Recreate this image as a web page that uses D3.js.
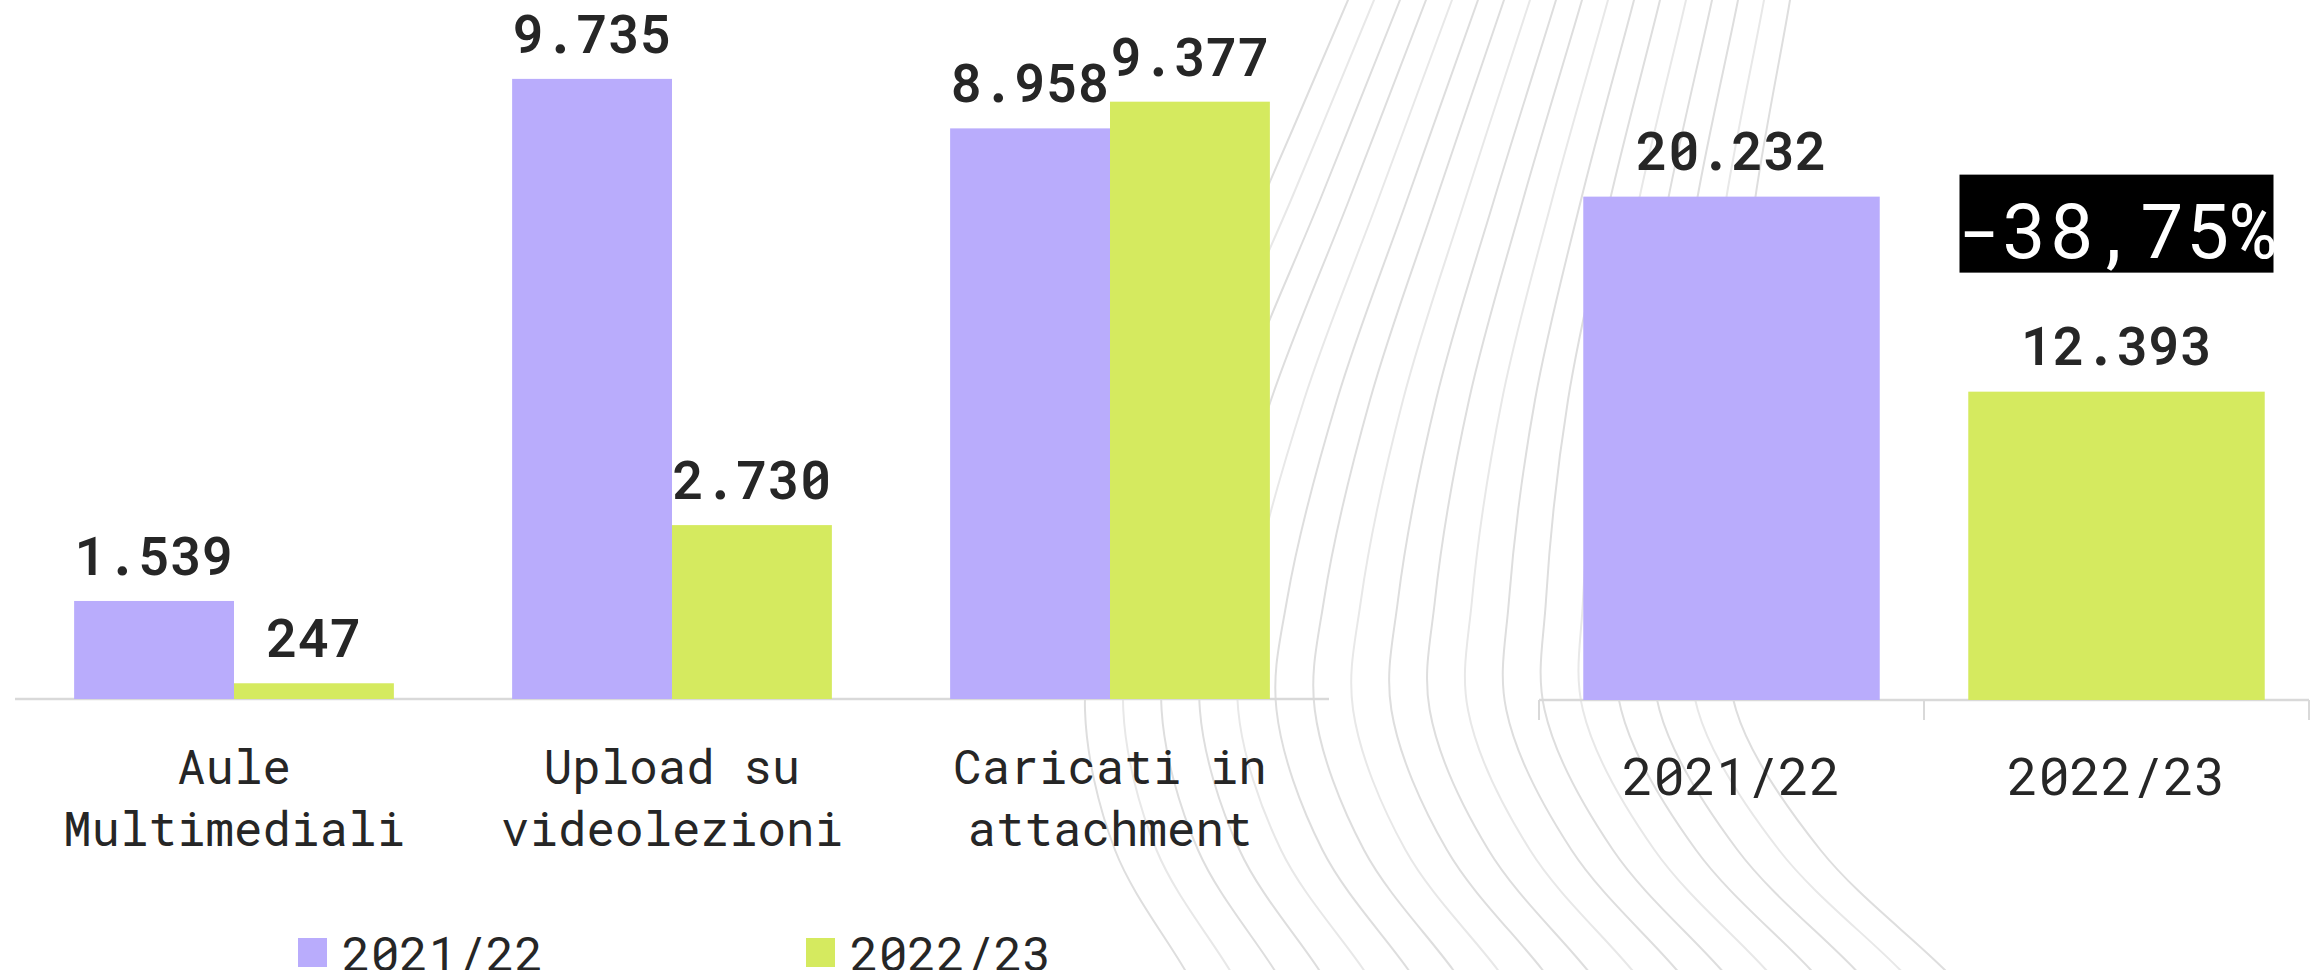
<!DOCTYPE html>
<html>
<head>
<meta charset="utf-8">
<script src="https://cdn.jsdelivr.net/npm/d3@7"></script>
<style>
  html, body { margin: 0; padding: 0; background: #fff; }
  svg { display: block; }
  text { font-family: "Roboto Mono", "Liberation Mono", "DejaVu Sans Mono", monospace; fill: #262626; }
</style>
</head>
<body>
<div id="chart"></div>
<script>
// data
const categories = ["Aule Multimediali", "Upload su videolezioni", "Caricati in attachment"];
const categoryLines = [["Aule", "Multimediali"], ["Upload su", "videolezioni"], ["Caricati in", "attachment"]];
const seriesNames = ["2021/22", "2022/23"];
const values2122 = [1539, 9735, 8958];
const values2223 = [247, 2730, 9377];
const totalYears = ["2021/22", "2022/23"];
const totalValues = [20232, 12393];

const colors = ["#b9acfc", "#d5ea5f"];

const width = 2321, height = 970;

const it = d3.formatLocale({ decimal: ",", thousands: ".", grouping: [3], currency: ["", "€"], minus: "-" });
const fmt = it.format(",");
const fmtPct = it.format(".2%");

const svg = d3.select("#chart").append("svg")
  .attr("width", width)
  .attr("height", height)
  .attr("viewBox", `0 0 ${width} ${height}`);

svg.append("rect").attr("width", width).attr("height", height).attr("fill", "#fff");

// background swirl lines (decoration only)
const deco = svg.append("g").attr("class", "deco");
const nLines = 18;
const swirl = d3.line().curve(d3.curveCatmullRom.alpha(0.5));
for (let i = 0; i < nLines; i++) {
  const pts = [
    [1374 + 25 * i, -60],
    [1348 + 26 * i, 0],
    [1262 + 29 * i, 200],
    [1172 + 33 * i, 400],
    [1102 + 37 * i, 600],
    [1085 + 38.3 * i, 710],
    [1115 + 41.5 * i, 850],
    [1185 + 44.7 * i, 970],
    [1232 + 46.5 * i, 1050]
  ];
  deco.append("path")
    .attr("d", swirl(pts))
    .attr("fill", "none")
    .attr("stroke", i % 3 == 1 ? "#e8e8e8" : "#dedede")
    .attr("stroke-width", 2);
}

// ---- left chart: grouped bars ----
const base = 699;
const xL = d3.scaleBand()
  .domain(categories)
  .range([15, 1329])
  .paddingInner(0.27)
  .paddingOuter(0.135);

const xSub = d3.scaleBand()
  .domain([0, 1])
  .range([0, xL.bandwidth()]);

const yL = d3.scaleLinear()
  .domain([0, 10000])
  .range([base, 62]);

const rows = [];
categories.forEach((c, i) => {
  rows.push({ cat: c, s: 0, value: values2122[i] });
  rows.push({ cat: c, s: 1, value: values2223[i] });
});

const left = svg.append("g").attr("class", "left");

left.append("line")
  .attr("x1", 15).attr("x2", 1329)
  .attr("y1", base).attr("y2", base)
  .attr("stroke", "#d9d9d9")
  .attr("stroke-width", 2.5);

left.selectAll("rect.bar")
  .data(rows)
  .enter()
  .append("rect")
  .attr("class", "bar")
  .attr("x", d => xL(d.cat) + xSub(d.s))
  .attr("width", xSub.bandwidth())
  .attr("y", d => yL(d.value))
  .attr("height", d => yL(0) - yL(d.value))
  .attr("fill", d => colors[d.s]);

left.selectAll("text.valueLabel")
  .data(rows)
  .enter()
  .append("text")
  .attr("class", "valueLabel")
  .attr("x", d => xL(d.cat) + xSub(d.s) + xSub.bandwidth() / 2)
  .attr("y", d => yL(d.value) - 26)
  .attr("text-anchor", "middle")
  .style("font-size", "53px")
  .style("font-weight", 600)
  .text(d => fmt(d.value));

const catLabel = left.selectAll("text.cat")
  .data(categories)
  .enter()
  .append("text")
  .attr("class", "cat")
  .attr("text-anchor", "middle")
  .style("font-size", "47.5px")
  .attr("x", d => xL(d) + xL.bandwidth() / 2)
  .attr("y", 784);

catLabel.selectAll("tspan")
  .data((d, i) => categoryLines[i])
  .enter()
  .append("tspan")
  .attr("x", function () { return d3.select(this.parentNode).attr("x"); })
  .attr("dy", (d, j) => j == 0 ? 0 : 62)
  .text(d => d);

// ---- right chart: totals ----
const baseR = 700;
const xR = d3.scaleBand()
  .domain(totalYears)
  .range([1539, 2309])
  .paddingInner(0.23)
  .paddingOuter(0.115);

const yR = d3.scaleLinear()
  .domain([0, 25000])
  .range([baseR, 78]);

const right = svg.append("g").attr("class", "right");

right.append("line")
  .attr("x1", 1539).attr("x2", 2309)
  .attr("y1", baseR).attr("y2", baseR)
  .attr("stroke", "#d9d9d9")
  .attr("stroke-width", 2.5);

// tick marks on the category edges
const edges = [xR.range()[0]];
totalYears.slice(1).forEach(d => edges.push(xR(d) - xR.step() * xR.paddingInner() / 2));
edges.push(xR.range()[1]);
right.selectAll("line.tick")
  .data(edges)
  .enter()
  .append("line")
  .attr("class", "tick")
  .attr("x1", d => d).attr("x2", d => d)
  .attr("y1", baseR).attr("y2", baseR + 20)
  .attr("stroke", "#d9d9d9")
  .attr("stroke-width", 2);

right.selectAll("rect.bar")
  .data(totalValues)
  .enter()
  .append("rect")
  .attr("class", "bar")
  .attr("x", (d, i) => xR(totalYears[i]))
  .attr("width", xR.bandwidth())
  .attr("y", d => yR(d))
  .attr("height", d => yR(0) - yR(d))
  .attr("fill", (d, i) => colors[i]);

right.selectAll("text.valueLabel")
  .data(totalValues)
  .enter()
  .append("text")
  .attr("class", "valueLabel")
  .attr("x", (d, i) => xR(totalYears[i]) + xR.bandwidth() / 2)
  .attr("y", d => yR(d) - 27)
  .attr("text-anchor", "middle")
  .style("font-size", "53px")
  .style("font-weight", 600)
  .text(d => fmt(d));

right.selectAll("text.cat")
  .data(totalYears)
  .enter()
  .append("text")
  .attr("class", "cat")
  .attr("x", d => xR(d) + xR.bandwidth() / 2)
  .attr("y", 795)
  .attr("text-anchor", "middle")
  .style("font-size", "52px")
  .text(d => d);

// change badge
const change = (totalValues[1] - totalValues[0]) / totalValues[0];
const cx = xR(totalYears[1]) + xR.bandwidth() / 2;
const boxTop = yR(totalValues[0]) - 22;
right.append("rect")
  .attr("x", cx - 157)
  .attr("y", boxTop)
  .attr("width", 314)
  .attr("height", 98)
  .attr("fill", "#000");
right.append("text")
  .attr("x", cx)
  .attr("y", boxTop + 83)
  .attr("text-anchor", "middle")
  .style("font-size", "76px")
  .style("fill", "#fff")
  .text(fmtPct(change));

// ---- legend ----
const legend = svg.append("g").attr("class", "legend");
const legX = [298, 806];
const leg = legend.selectAll("g")
  .data(seriesNames)
  .enter()
  .append("g")
  .attr("transform", (d, i) => `translate(${legX[i]}, 938)`);
leg.append("rect")
  .attr("width", 29).attr("height", 29)
  .attr("fill", (d, i) => colors[i]);
leg.append("text")
  .attr("x", 44)
  .attr("y", 33)
  .style("font-size", "48px")
  .text(d => d);
</script>
</body>
</html>
